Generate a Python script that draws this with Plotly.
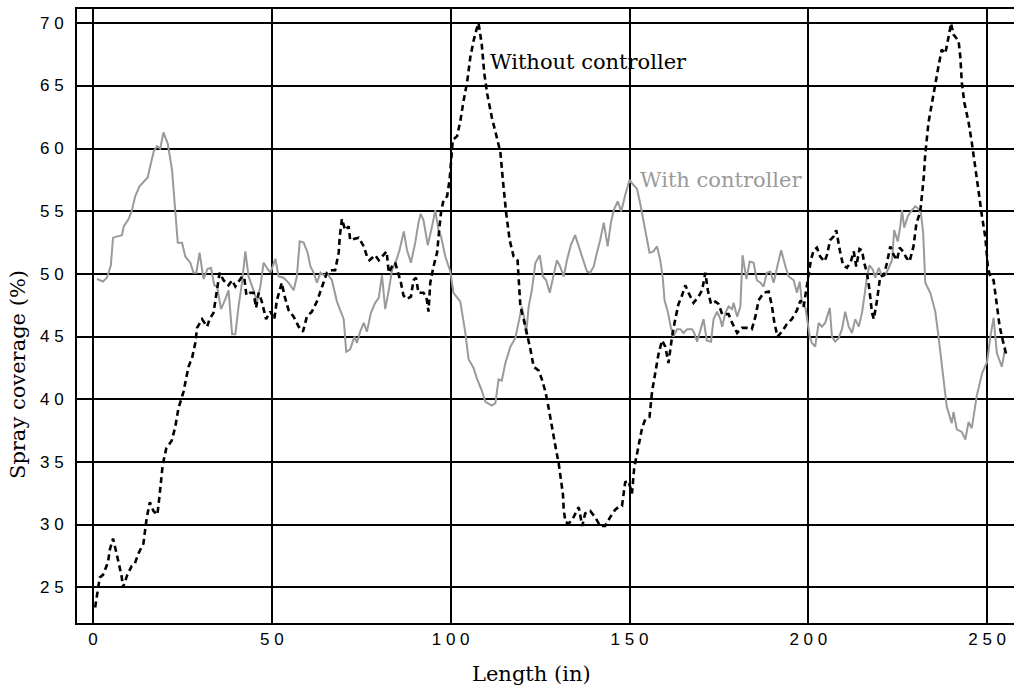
import plotly.graph_objects as go

# ---------------- data ----------------
length_with = [
    1.1, 2.8, 3.9, 5.0, 5.6, 7.2, 8.1, 8.6, 10.0, 10.9,
    11.8, 13.0, 14.2, 15.3, 16.0, 17.0, 17.9, 18.8, 19.7, 20.9,
    22.1, 23.0, 23.7, 24.9, 25.8, 27.2, 28.1, 28.9, 29.8, 30.9,
    32.0, 33.0, 33.9, 34.7, 35.8, 37.0, 37.9, 38.9, 39.8, 40.7,
    41.7, 42.6, 43.5, 44.9, 45.8, 46.8, 47.7, 48.6, 49.6, 51.0,
    51.9, 53.3, 54.7, 56.1, 57.0, 57.8, 58.9, 60.0, 60.8, 61.7,
    62.6, 63.6, 64.5, 65.6, 66.8, 68.2, 70.1, 70.8, 71.9, 73.1,
    73.8, 74.7, 75.7, 76.6, 77.7, 78.9, 79.9, 80.8, 81.7, 82.7,
    83.6, 84.8, 85.7, 86.9, 87.8, 88.9, 90.1, 91.0, 91.6, 92.4,
    93.6, 94.8, 95.7, 96.6, 97.3, 98.5, 99.9, 100.8, 102.7, 104.1,
    105.0, 106.4, 107.3, 108.7, 109.7, 111.5, 112.5, 113.4, 114.3, 115.3,
    116.7, 118.1, 119.0, 119.9, 120.6, 121.1, 121.8, 122.7, 123.7, 124.9,
    125.8, 126.7, 127.7, 128.6, 129.7, 130.6, 131.6, 132.5, 133.6, 134.8,
    136.0, 137.2, 138.1, 139.0, 140.0, 140.9, 141.8, 142.8, 143.9, 144.8,
    145.6, 146.7, 147.7, 148.8, 150.0, 151.1, 152.1, 153.0, 153.9, 154.9,
    155.6, 156.7, 157.7, 158.6, 159.3, 159.8, 160.7, 161.6, 162.3, 163.3,
    164.2, 165.1, 166.1, 167.5, 168.1, 168.9, 169.8, 170.7, 171.6, 172.8,
    173.5, 174.5, 175.4, 175.9, 176.8, 177.7, 178.7, 179.1, 180.1, 181.0,
    181.6, 182.7, 183.6, 184.7, 185.6, 186.6, 187.5, 188.4, 189.4, 190.3,
    191.4, 192.4, 193.6, 194.5, 195.9, 196.8, 197.6, 198.2, 199.2, 200.4,
    201.0, 201.9, 202.9, 203.8, 204.7, 206.0, 206.6, 207.5, 208.5, 209.4,
    210.3, 211.3, 212.2, 213.1, 214.1, 215.0, 215.9, 216.4, 217.1, 218.1,
    218.7, 219.7, 220.6, 221.5, 222.5, 223.4, 224.0, 225.0, 225.7, 226.2,
    226.8, 227.8, 228.7, 229.9, 230.8, 231.5, 232.1, 232.7, 234.1, 235.5,
    236.4, 237.4, 238.7, 240.1, 240.6, 241.5, 242.9, 243.9, 244.8, 245.7,
    247.1, 248.6, 250.0, 250.9, 251.8, 252.7, 254.1, 255.1,
]
coverage_with = [
    49.6, 49.4, 49.7, 50.7, 52.9, 53.0, 53.1, 53.8, 54.4, 55.1,
    56.2, 57.0, 57.4, 57.7, 58.6, 59.8, 60.2, 60.0, 61.3, 60.4,
    58.3, 55.4, 52.5, 52.5, 51.4, 50.9, 50.1, 50.1, 51.7, 49.6,
    50.4, 50.5, 49.1, 49.0, 47.2, 48.0, 48.7, 45.2, 45.2, 47.4,
    49.4, 51.8, 49.8, 48.7, 47.8, 49.0, 50.9, 50.5, 50.1, 51.2,
    49.8, 49.7, 49.3, 48.7, 49.8, 52.6, 52.5, 51.7, 50.6, 50.1,
    49.3, 50.1, 49.9, 50.0, 49.5, 47.8, 46.4, 43.8, 44.0, 45.0,
    44.5, 45.4, 46.1, 45.4, 46.9, 47.7, 48.1, 49.9, 47.2, 48.7,
    50.3, 51.1, 51.9, 53.4, 51.9, 50.9, 52.5, 54.1, 54.8, 54.3,
    52.3, 53.8, 55.1, 53.5, 53.0, 51.4, 50.2, 48.5, 47.8, 45.3,
    43.2, 42.5, 41.7, 40.7, 39.8, 39.5, 39.7, 41.6, 41.5, 42.9,
    44.2, 44.9, 46.1, 47.4, 46.4, 45.2, 47.4, 48.7, 50.9, 51.5,
    49.8, 49.5, 48.5, 49.8, 51.1, 50.6, 49.8, 51.1, 52.3, 53.1,
    52.0, 50.9, 50.2, 50.1, 50.6, 51.7, 52.7, 54.1, 52.2, 54.1,
    55.1, 55.8, 55.0, 56.3, 57.5, 57.1, 56.8, 55.6, 54.3, 52.7,
    51.7, 51.8, 52.2, 51.1, 49.7, 47.9, 47.0, 45.7, 45.0, 45.6,
    45.6, 45.3, 45.6, 45.6, 45.3, 44.6, 45.5, 46.4, 44.7, 44.6,
    46.4, 47.0, 46.4, 45.8, 46.9, 47.4, 47.2, 47.7, 46.6, 47.4,
    51.5, 49.6, 51.0, 50.9, 49.5, 49.3, 49.0, 50.1, 50.2, 49.3,
    50.7, 51.9, 50.6, 49.8, 49.5, 48.5, 49.4, 47.7, 47.3, 45.0,
    44.5, 44.2, 46.1, 45.8, 46.1, 47.3, 45.0, 44.6, 44.9, 45.6,
    47.0, 45.8, 45.3, 46.4, 45.8, 46.9, 48.7, 49.8, 50.7, 50.3,
    49.7, 50.5, 49.8, 49.9, 50.5, 51.1, 53.5, 52.6, 53.8, 55.1,
    53.7, 54.6, 55.0, 55.4, 55.2, 54.8, 53.3, 49.3, 48.5, 47.0,
    45.0, 42.6, 39.4, 38.1, 39.0, 37.6, 37.4, 36.8, 38.2, 37.7,
    40.3, 42.1, 43.0, 45.0, 46.5, 43.7, 42.6, 44.2,
]

length_without = [
    0.6, 1.4, 1.9, 2.8, 4.2, 4.7, 5.6, 6.6, 7.5, 8.0,
    8.4, 9.6, 10.8, 11.7, 12.7, 14.1, 15.0, 15.9, 16.9, 18.0,
    18.6, 19.5, 20.5, 22.0, 23.0, 23.9, 25.3, 26.7, 27.7, 28.6,
    29.1, 30.5, 31.9, 32.6, 33.7, 34.7, 35.4, 36.5, 37.9, 38.9,
    39.8, 41.7, 42.3, 42.9, 44.0, 44.9, 45.6, 46.3, 47.2, 48.4,
    49.6, 50.7, 51.4, 52.8, 53.5, 54.7, 56.1, 57.5, 58.7, 59.8,
    61.2, 62.6, 64.0, 65.4, 66.5, 67.7, 68.7, 69.0, 69.6, 70.5,
    71.5, 71.9, 72.9, 74.3, 75.7, 76.6, 77.3, 78.0, 78.9, 79.9,
    81.3, 82.1, 82.7, 83.6, 84.5, 85.3, 86.1, 86.8, 87.7, 88.9,
    89.6, 90.3, 91.0, 92.4, 93.2, 93.8, 94.3, 95.2, 96.2, 96.9,
    97.3, 98.0, 99.0, 99.7, 100.2, 100.6, 101.8, 102.7, 103.6, 104.6,
    105.5, 106.4, 107.4, 107.8, 108.7, 109.4, 110.2, 111.5, 112.9, 113.9,
    114.6, 115.5, 116.5, 117.6, 118.7, 119.0, 119.5, 120.4, 121.3, 122.3,
    123.2, 124.6, 125.5, 126.5, 127.4, 128.3, 129.2, 130.2, 130.8, 131.4,
    131.6, 132.1, 133.0, 134.0, 134.9, 135.8, 136.8, 137.6, 139.0, 140.4,
    141.8, 143.2, 144.6, 146.0, 146.9, 147.9, 148.8, 149.7, 150.7, 151.3,
    152.2, 153.5, 154.4, 155.6, 156.3, 157.2, 158.1, 159.1, 160.0, 160.9,
    161.9, 162.8, 163.7, 164.7, 165.6, 166.5, 167.9, 169.3, 170.3, 171.2,
    171.9, 172.8, 174.0, 174.9, 175.9, 176.8, 177.7, 178.7, 180.1, 181.4,
    182.8, 184.2, 185.2, 186.1, 187.5, 188.9, 189.8, 190.5, 191.4, 192.6,
    194.0, 195.4, 196.8, 197.8, 198.7, 199.4, 200.1, 200.7, 201.5, 202.4,
    203.3, 204.5, 205.2, 206.1, 207.1, 207.8, 208.8, 209.7, 210.8, 211.9,
    212.7, 213.4, 214.3, 215.0, 215.6, 216.4, 217.1, 217.8, 218.3, 219.2,
    220.1, 221.1, 222.0, 222.9, 223.9, 224.8, 225.5, 226.5, 227.4, 228.3,
    229.4, 230.2, 231.3, 232.2, 232.7, 233.6, 234.6, 235.5, 236.4, 237.3,
    238.3, 239.2, 239.9, 240.6, 242.0, 242.5, 242.9, 243.6, 244.8, 245.7,
    246.7, 247.6, 248.5, 249.5, 250.2, 251.0, 251.8, 252.7, 253.5, 254.6,
    255.5,
]
coverage_without = [
    23.4, 25.0, 25.8, 26.0, 27.0, 28.0, 28.9, 27.7, 26.6, 25.9,
    25.0, 26.0, 26.7, 26.9, 27.7, 28.5, 30.5, 31.8, 31.1, 30.8,
    32.3, 34.8, 36.1, 36.7, 37.8, 39.3, 40.6, 42.6, 43.3, 44.5,
    45.7, 46.4, 45.8, 46.4, 46.9, 48.7, 50.1, 49.5, 49.1, 49.5,
    49.0, 49.8, 49.7, 48.3, 48.5, 48.5, 47.3, 48.5, 47.8, 46.4,
    47.0, 46.4, 47.9, 49.3, 48.3, 47.1, 46.6, 45.8, 45.4, 46.6,
    47.0, 47.8, 48.9, 50.1, 50.3, 50.3, 51.7, 53.0, 54.4, 53.5,
    53.8, 52.7, 52.8, 52.9, 52.2, 51.4, 51.1, 51.3, 51.5, 51.1,
    51.5, 51.8, 50.1, 50.6, 50.9, 50.1, 49.3, 48.3, 48.0, 48.2,
    49.5, 49.7, 48.5, 48.5, 48.2, 47.0, 49.3, 50.6, 51.7, 53.8,
    54.9, 55.9, 56.2, 57.5, 59.6, 60.7, 61.0, 62.2, 63.8, 65.3,
    67.3, 68.6, 69.7, 70.0, 68.3, 66.0, 64.4, 62.5, 60.9, 59.7,
    57.5, 54.9, 52.7, 51.4, 51.1, 49.5, 47.4, 46.4, 45.3, 44.0,
    42.6, 42.3, 41.6, 40.6, 39.3, 37.7, 36.4, 34.9, 33.8, 32.4,
    31.2, 30.2, 30.1, 30.4, 30.9, 31.4, 29.9, 30.9, 31.1, 30.6,
    29.9, 29.9, 30.6, 31.2, 31.4, 31.5, 33.4, 33.5, 32.5, 34.5,
    35.8, 37.7, 38.4, 38.6, 40.6, 42.3, 43.6, 44.7, 44.2, 42.9,
    45.0, 46.4, 47.6, 48.3, 49.1, 48.5, 47.7, 48.2, 48.7, 50.1,
    48.7, 47.6, 47.8, 47.6, 46.8, 46.8, 46.8, 46.1, 45.3, 45.7,
    45.7, 45.6, 46.6, 47.9, 48.5, 48.6, 47.5, 46.1, 45.0, 45.4,
    46.0, 46.4, 47.1, 47.9, 47.4, 48.7, 49.9, 51.1, 51.9, 52.1,
    51.4, 51.0, 51.5, 52.7, 53.0, 53.5, 51.9, 50.7, 50.5, 51.0,
    51.8, 50.6, 52.0, 51.9, 50.9, 50.1, 48.7, 46.9, 46.4, 47.9,
    49.8, 49.9, 50.9, 52.2, 51.5, 51.1, 52.1, 51.8, 51.3, 51.0,
    52.2, 54.0, 55.0, 57.5, 59.6, 62.1, 63.7, 65.3, 66.6, 67.9,
    67.6, 68.9, 70.0, 69.1, 68.6, 67.3, 65.3, 63.7, 62.1, 60.5,
    58.6, 56.6, 54.7, 52.9, 50.5, 49.7, 49.5, 47.4, 45.8, 44.4,
    43.4,
]

x_ticks = [0, 50, 100, 150, 200, 250]
y_ticks = [25, 30, 35, 40, 45, 50, 55, 60, 65, 70]
x_tick_labels = ["0", "5 0", "1 0 0", "1 5 0", "2 0 0", "2 5 0"]
y_tick_labels = ["2 5", "3 0", "3 5", "4 0", "4 5", "5 0", "5 5", "6 0", "6 5", "7 0"]

label_without = "Without controller"
label_with = "With controller"
x_title = "Length (in)"
y_title = "Spray coverage (%)"

assert len(length_with) == len(coverage_with)
assert len(length_without) == len(coverage_without)

GRAY = "#9a9a9a"
SERIF = "DejaVu Serif"
SANS = "Liberation Sans, Arial, sans-serif"

fig = go.Figure()
fig.add_trace(go.Scatter(
    x=length_with, y=coverage_with, mode="lines",
    line=dict(color=GRAY, width=2), name=label_with, hoverinfo="skip",
))
fig.add_trace(go.Scatter(
    x=length_without, y=coverage_without, mode="lines",
    line=dict(color="black", width=2.6, dash="6px,4px"), name=label_without,
    hoverinfo="skip",
))

PLOT_L, PLOT_W, PLOT_B, PLOT_H = 77, 937, 623, 614

fig.update_layout(
    width=1014, height=686,
    margin=dict(l=PLOT_L, r=0, t=9, b=63),
    plot_bgcolor="white", paper_bgcolor="white",
    showlegend=False,
)
fig.update_xaxes(
    range=[-4.47, 257.5], tickmode="array", tickvals=x_ticks, ticktext=x_tick_labels,
    showgrid=True, gridcolor="black", gridwidth=1.6, zeroline=False,
    showline=True, linecolor="black", linewidth=2, mirror=True,
    ticks="",
    tickfont=dict(family=SANS, size=17, color="black"),
)
fig.update_yaxes(
    range=[22.16, 71.14], tickmode="array", tickvals=y_ticks,
    showgrid=True, gridcolor="black", gridwidth=1.6, zeroline=False,
    showline=True, linecolor="black", linewidth=2, mirror=False,
    ticks="", showticklabels=False,
)

# y tick labels placed on the y scale, right-aligned a little left of the frame
for val, txt in zip(y_ticks, y_tick_labels):
    fig.add_annotation(x=(66 - PLOT_L) / PLOT_W, y=val, xref="paper", yref="y",
                       text=txt, showarrow=False, xanchor="right", yanchor="middle",
                       font=dict(family=SANS, size=17, color="black"))

fig.add_annotation(x=110.5, y=66.9, xref="x", yref="y", text=label_without,
                   showarrow=False, xanchor="left", yanchor="middle",
                   font=dict(family=SERIF, size=21, color="black"))
fig.add_annotation(x=152.5, y=57.5, xref="x", yref="y", text=label_with,
                   showarrow=False, xanchor="left", yanchor="middle",
                   font=dict(family=SERIF, size=21, color=GRAY))
fig.add_annotation(x=(531 - PLOT_L) / PLOT_W, y=(PLOT_B - 674) / PLOT_H,
                   xref="paper", yref="paper",
                   text=x_title, showarrow=False, xanchor="center", yanchor="middle",
                   font=dict(family=SERIF, size=21, color="black"))
fig.add_annotation(x=(18 - PLOT_L) / PLOT_W, y=(PLOT_B - 375) / PLOT_H,
                   xref="paper", yref="paper",
                   text=y_title, showarrow=False, textangle=-90,
                   xanchor="center", yanchor="middle",
                   font=dict(family=SERIF, size=21, color="black"))

fig.write_html(
    "out.html",
    config={"displayModeBar": False},
    post_script="document.body.style.margin='0px';document.body.style.overflow='hidden';",
)
